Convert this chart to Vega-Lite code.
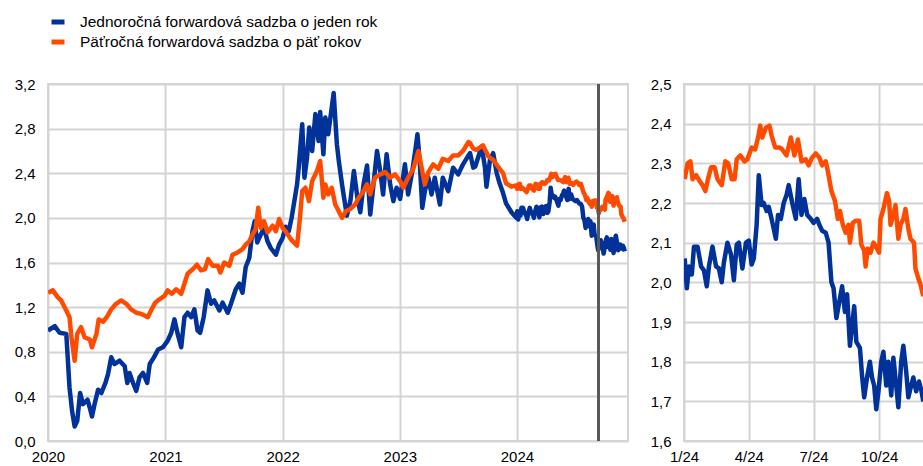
{
"$schema": "https://vega.github.io/schema/vega-lite/v6.json",
"padding": {"left": 13, "top": 12, "right": 0, "bottom": 0},
"background": "white",
"bounds": "flush",
"spacing": 56,
"config": {
  "font": "Liberation Sans",
  "view": {"stroke": "#d4d4d4", "strokeWidth": 2},
  "axis": {"labelFont": "Liberation Sans", "labelFontSize": 15, "labelColor": "#000000", "grid": true, "gridColor": "#d4d4d4", "gridOpacity": 1, "gridWidth": 2, "domain": false, "ticks": false, "title": null, "labelFlush": false}
},
"datasets": {"d": [
{"d":"2020-01-01","s":"1Y","v":0.99},{"d":"2020-01-22","s":"1Y","v":1.03},{"d":"2020-02-06","s":"1Y","v":0.97},{"d":"2020-02-27","s":"1Y","v":0.96},{"d":"2020-03-08","s":"1Y","v":0.48},{"d":"2020-03-16","s":"1Y","v":0.27},{"d":"2020-03-24","s":"1Y","v":0.13},{"d":"2020-04-01","s":"1Y","v":0.18},{"d":"2020-04-10","s":"1Y","v":0.43},{"d":"2020-04-19","s":"1Y","v":0.33},{"d":"2020-05-03","s":"1Y","v":0.37},{"d":"2020-05-10","s":"1Y","v":0.30},{"d":"2020-05-17","s":"1Y","v":0.22},{"d":"2020-05-25","s":"1Y","v":0.33},{"d":"2020-06-05","s":"1Y","v":0.46},{"d":"2020-06-15","s":"1Y","v":0.43},{"d":"2020-06-28","s":"1Y","v":0.52},{"d":"2020-07-06","s":"1Y","v":0.60},{"d":"2020-07-16","s":"1Y","v":0.75},{"d":"2020-07-26","s":"1Y","v":0.69},{"d":"2020-08-11","s":"1Y","v":0.72},{"d":"2020-08-27","s":"1Y","v":0.67},{"d":"2020-09-04","s":"1Y","v":0.52},{"d":"2020-09-11","s":"1Y","v":0.61},{"d":"2020-09-22","s":"1Y","v":0.52},{"d":"2020-10-02","s":"1Y","v":0.45},{"d":"2020-10-12","s":"1Y","v":0.57},{"d":"2020-10-23","s":"1Y","v":0.61},{"d":"2020-11-05","s":"1Y","v":0.52},{"d":"2020-11-13","s":"1Y","v":0.69},{"d":"2020-11-26","s":"1Y","v":0.75},{"d":"2020-12-09","s":"1Y","v":0.82},{"d":"2020-12-24","s":"1Y","v":0.84},
{"d":"2021-01-08","s":"1Y","v":0.90},{"d":"2021-01-19","s":"1Y","v":0.97},{"d":"2021-01-29","s":"1Y","v":1.09},{"d":"2021-02-08","s":"1Y","v":0.96},{"d":"2021-02-19","s":"1Y","v":0.84},{"d":"2021-03-01","s":"1Y","v":1.11},{"d":"2021-03-11","s":"1Y","v":1.15},{"d":"2021-03-22","s":"1Y","v":1.11},{"d":"2021-04-01","s":"1Y","v":1.18},{"d":"2021-04-11","s":"1Y","v":0.99},{"d":"2021-04-19","s":"1Y","v":0.97},{"d":"2021-04-30","s":"1Y","v":1.11},{"d":"2021-05-12","s":"1Y","v":1.35},{"d":"2021-05-23","s":"1Y","v":1.23},{"d":"2021-06-02","s":"1Y","v":1.26},{"d":"2021-06-18","s":"1Y","v":1.17},{"d":"2021-06-28","s":"1Y","v":1.24},{"d":"2021-07-14","s":"1Y","v":1.15},{"d":"2021-07-24","s":"1Y","v":1.23},{"d":"2021-08-08","s":"1Y","v":1.36},{"d":"2021-08-19","s":"1Y","v":1.41},{"d":"2021-08-29","s":"1Y","v":1.33},{"d":"2021-09-08","s":"1Y","v":1.56},{"d":"2021-09-19","s":"1Y","v":1.64},{"d":"2021-09-29","s":"1Y","v":1.88},{"d":"2021-10-06","s":"1Y","v":1.97},{"d":"2021-10-14","s":"1Y","v":1.78},{"d":"2021-10-25","s":"1Y","v":1.85},{"d":"2021-11-04","s":"1Y","v":1.91},{"d":"2021-11-15","s":"1Y","v":1.79},{"d":"2021-11-25","s":"1Y","v":1.73},{"d":"2021-12-11","s":"1Y","v":1.67},{"d":"2021-12-21","s":"1Y","v":1.76},
{"d":"2022-01-01","s":"1Y","v":1.82},{"d":"2022-01-10","s":"1Y","v":1.92},{"d":"2022-01-20","s":"1Y","v":1.88},{"d":"2022-01-29","s":"1Y","v":2.00},{"d":"2022-02-15","s":"1Y","v":2.30},{"d":"2022-02-20","s":"1Y","v":2.45},{"d":"2022-03-03","s":"1Y","v":2.84},{"d":"2022-03-10","s":"1Y","v":2.36},{"d":"2022-03-18","s":"1Y","v":2.54},{"d":"2022-03-25","s":"1Y","v":2.81},{"d":"2022-04-03","s":"1Y","v":2.60},{"d":"2022-04-13","s":"1Y","v":2.93},{"d":"2022-04-23","s":"1Y","v":2.69},{"d":"2022-04-28","s":"1Y","v":2.95},{"d":"2022-05-08","s":"1Y","v":2.57},{"d":"2022-05-14","s":"1Y","v":2.90},{"d":"2022-05-23","s":"1Y","v":2.75},{"d":"2022-06-09","s":"1Y","v":3.12},{"d":"2022-06-19","s":"1Y","v":2.66},{"d":"2022-06-25","s":"1Y","v":2.51},{"d":"2022-07-05","s":"1Y","v":2.30},{"d":"2022-07-13","s":"1Y","v":2.15},{"d":"2022-07-20","s":"1Y","v":2.02},{"d":"2022-07-31","s":"1Y","v":2.15},{"d":"2022-08-11","s":"1Y","v":2.42},{"d":"2022-08-22","s":"1Y","v":2.18},{"d":"2022-08-31","s":"1Y","v":2.05},{"d":"2022-09-10","s":"1Y","v":2.30},{"d":"2022-09-21","s":"1Y","v":2.47},{"d":"2022-10-01","s":"1Y","v":2.03},{"d":"2022-10-11","s":"1Y","v":2.30},{"d":"2022-10-22","s":"1Y","v":2.60},{"d":"2022-11-01","s":"1Y","v":2.42},{"d":"2022-11-10","s":"1Y","v":2.21},{"d":"2022-11-21","s":"1Y","v":2.57},{"d":"2022-12-02","s":"1Y","v":2.30},{"d":"2022-12-12","s":"1Y","v":2.15},{"d":"2022-12-22","s":"1Y","v":2.27},
{"d":"2023-01-02","s":"1Y","v":2.17},{"d":"2023-01-17","s":"1Y","v":2.48},{"d":"2023-01-27","s":"1Y","v":2.21},{"d":"2023-02-09","s":"1Y","v":2.42},{"d":"2023-02-19","s":"1Y","v":2.62},{"d":"2023-02-25","s":"1Y","v":2.75},{"d":"2023-03-04","s":"1Y","v":2.51},{"d":"2023-03-12","s":"1Y","v":2.09},{"d":"2023-03-20","s":"1Y","v":2.24},{"d":"2023-03-31","s":"1Y","v":2.36},{"d":"2023-04-10","s":"1Y","v":2.21},{"d":"2023-04-20","s":"1Y","v":2.36},{"d":"2023-05-06","s":"1Y","v":2.12},{"d":"2023-05-15","s":"1Y","v":2.36},{"d":"2023-06-01","s":"1Y","v":2.24},{"d":"2023-06-16","s":"1Y","v":2.45},{"d":"2023-07-02","s":"1Y","v":2.39},{"d":"2023-07-17","s":"1Y","v":2.48},{"d":"2023-08-03","s":"1Y","v":2.56},{"d":"2023-08-08","s":"1Y","v":2.58},{"d":"2023-08-18","s":"1Y","v":2.45},{"d":"2023-08-24","s":"1Y","v":2.46},{"d":"2023-09-03","s":"1Y","v":2.55},{"d":"2023-09-13","s":"1Y","v":2.64},{"d":"2023-09-23","s":"1Y","v":2.46},{"d":"2023-09-28","s":"1Y","v":2.28},{"d":"2023-10-09","s":"1Y","v":2.52},{"d":"2023-10-19","s":"1Y","v":2.58},{"d":"2023-10-30","s":"1Y","v":2.40},{"d":"2023-11-08","s":"1Y","v":2.31},{"d":"2023-11-19","s":"1Y","v":2.22},{"d":"2023-11-28","s":"1Y","v":2.13},{"d":"2023-12-15","s":"1Y","v":2.05},{"d":"2023-12-30","s":"1Y","v":2.00},
{"d":"2024-01-02","s":"1Y","v":2.06},{"d":"2024-01-05","s":"1Y","v":1.985},{"d":"2024-01-08","s":"1Y","v":2.04},{"d":"2024-01-12","s":"1Y","v":2.02},{"d":"2024-01-15","s":"1Y","v":2.09},{"d":"2024-01-20","s":"1Y","v":2.09},{"d":"2024-01-25","s":"1Y","v":2.04},{"d":"2024-01-29","s":"1Y","v":2.03},{"d":"2024-02-02","s":"1Y","v":1.99},{"d":"2024-02-05","s":"1Y","v":2.04},{"d":"2024-02-10","s":"1Y","v":2.09},{"d":"2024-02-15","s":"1Y","v":2.04},{"d":"2024-02-19","s":"1Y","v":2.035},{"d":"2024-02-23","s":"1Y","v":2.0},{"d":"2024-02-26","s":"1Y","v":2.05},{"d":"2024-03-02","s":"1Y","v":2.10},{"d":"2024-03-07","s":"1Y","v":2.07},{"d":"2024-03-11","s":"1Y","v":2.005},{"d":"2024-03-15","s":"1Y","v":2.095},{"d":"2024-03-18","s":"1Y","v":2.10},{"d":"2024-03-23","s":"1Y","v":2.035},{"d":"2024-03-28","s":"1Y","v":2.10},{"d":"2024-04-01","s":"1Y","v":2.105},{"d":"2024-04-05","s":"1Y","v":2.045},{"d":"2024-04-08","s":"1Y","v":2.06},{"d":"2024-04-12","s":"1Y","v":2.145},{"d":"2024-04-15","s":"1Y","v":2.27},{"d":"2024-04-19","s":"1Y","v":2.195},{"d":"2024-04-22","s":"1Y","v":2.20},{"d":"2024-04-26","s":"1Y","v":2.18},{"d":"2024-04-29","s":"1Y","v":2.19},{"d":"2024-05-03","s":"1Y","v":2.16},{"d":"2024-05-06","s":"1Y","v":2.135},{"d":"2024-05-09","s":"1Y","v":2.11},{"d":"2024-05-12","s":"1Y","v":2.17},{"d":"2024-05-16","s":"1Y","v":2.16},{"d":"2024-05-20","s":"1Y","v":2.20},{"d":"2024-05-24","s":"1Y","v":2.22},{"d":"2024-05-27","s":"1Y","v":2.245},{"d":"2024-06-01","s":"1Y","v":2.20},{"d":"2024-06-06","s":"1Y","v":2.16},{"d":"2024-06-10","s":"1Y","v":2.26},{"d":"2024-06-14","s":"1Y","v":2.17},{"d":"2024-06-18","s":"1Y","v":2.21},{"d":"2024-06-22","s":"1Y","v":2.17},{"d":"2024-06-27","s":"1Y","v":2.16},{"d":"2024-07-01","s":"1Y","v":2.15},{"d":"2024-07-06","s":"1Y","v":2.16},{"d":"2024-07-09","s":"1Y","v":2.145},{"d":"2024-07-13","s":"1Y","v":2.13},{"d":"2024-07-18","s":"1Y","v":2.125},{"d":"2024-07-22","s":"1Y","v":2.10},{"d":"2024-07-26","s":"1Y","v":2.00},{"d":"2024-07-29","s":"1Y","v":1.985},{"d":"2024-08-02","s":"1Y","v":1.91},{"d":"2024-08-06","s":"1Y","v":1.95},{"d":"2024-08-10","s":"1Y","v":1.99},{"d":"2024-08-14","s":"1Y","v":1.925},{"d":"2024-08-17","s":"1Y","v":1.97},{"d":"2024-08-21","s":"1Y","v":1.84},{"d":"2024-08-24","s":"1Y","v":1.89},{"d":"2024-08-27","s":"1Y","v":1.94},{"d":"2024-08-30","s":"1Y","v":1.85},{"d":"2024-09-04","s":"1Y","v":1.835},{"d":"2024-09-07","s":"1Y","v":1.765},{"d":"2024-09-10","s":"1Y","v":1.71},{"d":"2024-09-14","s":"1Y","v":1.76},{"d":"2024-09-18","s":"1Y","v":1.80},{"d":"2024-09-21","s":"1Y","v":1.76},{"d":"2024-09-24","s":"1Y","v":1.74},{"d":"2024-09-27","s":"1Y","v":1.68},{"d":"2024-09-30","s":"1Y","v":1.725},{"d":"2024-10-04","s":"1Y","v":1.80},{"d":"2024-10-07","s":"1Y","v":1.825},{"d":"2024-10-11","s":"1Y","v":1.74},{"d":"2024-10-14","s":"1Y","v":1.80},{"d":"2024-10-18","s":"1Y","v":1.715},{"d":"2024-10-21","s":"1Y","v":1.81},{"d":"2024-10-25","s":"1Y","v":1.74},{"d":"2024-10-28","s":"1Y","v":1.685},{"d":"2024-11-01","s":"1Y","v":1.80},{"d":"2024-11-04","s":"1Y","v":1.84},{"d":"2024-11-08","s":"1Y","v":1.775},{"d":"2024-11-11","s":"1Y","v":1.71},{"d":"2024-11-15","s":"1Y","v":1.74},{"d":"2024-11-18","s":"1Y","v":1.76},{"d":"2024-11-22","s":"1Y","v":1.725},{"d":"2024-11-26","s":"1Y","v":1.75},{"d":"2024-11-29","s":"1Y","v":1.73},{"d":"2024-12-02","s":"1Y","v":1.70},
{"d":"2020-01-01","s":"5Y","v":1.33},{"d":"2020-01-16","s":"5Y","v":1.35},{"d":"2020-01-31","s":"5Y","v":1.29},{"d":"2020-02-11","s":"5Y","v":1.26},{"d":"2020-02-27","s":"5Y","v":1.17},{"d":"2020-03-08","s":"5Y","v":1.11},{"d":"2020-03-14","s":"5Y","v":0.93},{"d":"2020-03-24","s":"5Y","v":0.72},{"d":"2020-04-01","s":"5Y","v":0.96},{"d":"2020-04-13","s":"5Y","v":1.02},{"d":"2020-04-24","s":"5Y","v":0.93},{"d":"2020-05-10","s":"5Y","v":0.91},{"d":"2020-05-17","s":"5Y","v":0.84},{"d":"2020-05-31","s":"5Y","v":0.96},{"d":"2020-06-07","s":"5Y","v":1.09},{"d":"2020-06-21","s":"5Y","v":1.07},{"d":"2020-07-04","s":"5Y","v":1.12},{"d":"2020-07-16","s":"5Y","v":1.18},{"d":"2020-07-31","s":"5Y","v":1.23},{"d":"2020-08-16","s":"5Y","v":1.26},{"d":"2020-09-01","s":"5Y","v":1.23},{"d":"2020-09-16","s":"5Y","v":1.18},{"d":"2020-10-02","s":"5Y","v":1.15},{"d":"2020-10-17","s":"5Y","v":1.14},{"d":"2020-11-07","s":"5Y","v":1.11},{"d":"2020-11-17","s":"5Y","v":1.17},{"d":"2020-11-30","s":"5Y","v":1.24},{"d":"2020-12-13","s":"5Y","v":1.27},{"d":"2020-12-29","s":"5Y","v":1.30},
{"d":"2021-01-08","s":"5Y","v":1.35},{"d":"2021-01-21","s":"5Y","v":1.32},{"d":"2021-02-03","s":"5Y","v":1.36},{"d":"2021-02-19","s":"5Y","v":1.32},{"d":"2021-03-01","s":"5Y","v":1.41},{"d":"2021-03-11","s":"5Y","v":1.50},{"d":"2021-03-27","s":"5Y","v":1.54},{"d":"2021-04-09","s":"5Y","v":1.58},{"d":"2021-04-22","s":"5Y","v":1.53},{"d":"2021-05-04","s":"5Y","v":1.54},{"d":"2021-05-14","s":"5Y","v":1.63},{"d":"2021-05-28","s":"5Y","v":1.57},{"d":"2021-06-13","s":"5Y","v":1.57},{"d":"2021-06-21","s":"5Y","v":1.51},{"d":"2021-07-03","s":"5Y","v":1.60},{"d":"2021-07-19","s":"5Y","v":1.57},{"d":"2021-07-29","s":"5Y","v":1.67},{"d":"2021-08-14","s":"5Y","v":1.69},{"d":"2021-08-29","s":"5Y","v":1.72},{"d":"2021-09-08","s":"5Y","v":1.76},{"d":"2021-09-19","s":"5Y","v":1.79},{"d":"2021-09-29","s":"5Y","v":1.85},{"d":"2021-10-09","s":"5Y","v":1.90},{"d":"2021-10-17","s":"5Y","v":2.09},{"d":"2021-10-25","s":"5Y","v":1.91},{"d":"2021-11-04","s":"5Y","v":1.97},{"d":"2021-11-15","s":"5Y","v":1.87},{"d":"2021-12-01","s":"5Y","v":1.93},{"d":"2021-12-11","s":"5Y","v":1.88},{"d":"2021-12-21","s":"5Y","v":1.99},
{"d":"2022-01-01","s":"5Y","v":1.91},{"d":"2022-01-10","s":"5Y","v":1.88},{"d":"2022-01-29","s":"5Y","v":1.80},{"d":"2022-02-15","s":"5Y","v":1.75},{"d":"2022-02-24","s":"5Y","v":2.00},{"d":"2022-03-03","s":"5Y","v":2.24},{"d":"2022-03-13","s":"5Y","v":2.27},{"d":"2022-03-24","s":"5Y","v":2.15},{"d":"2022-04-03","s":"5Y","v":2.33},{"d":"2022-04-18","s":"5Y","v":2.42},{"d":"2022-04-28","s":"5Y","v":2.51},{"d":"2022-05-08","s":"5Y","v":2.18},{"d":"2022-05-14","s":"5Y","v":2.30},{"d":"2022-05-23","s":"5Y","v":2.21},{"d":"2022-06-03","s":"5Y","v":2.27},{"d":"2022-06-14","s":"5Y","v":2.12},{"d":"2022-06-25","s":"5Y","v":2.06},{"d":"2022-07-05","s":"5Y","v":2.00},{"d":"2022-07-17","s":"5Y","v":2.06},{"d":"2022-07-31","s":"5Y","v":2.08},{"d":"2022-08-15","s":"5Y","v":2.12},{"d":"2022-08-26","s":"5Y","v":2.18},{"d":"2022-09-10","s":"5Y","v":2.24},{"d":"2022-09-21","s":"5Y","v":2.30},{"d":"2022-10-01","s":"5Y","v":2.21},{"d":"2022-10-16","s":"5Y","v":2.36},{"d":"2022-11-01","s":"5Y","v":2.39},{"d":"2022-11-17","s":"5Y","v":2.41},{"d":"2022-12-02","s":"5Y","v":2.36},{"d":"2022-12-17","s":"5Y","v":2.39},
{"d":"2023-01-02","s":"5Y","v":2.33},{"d":"2023-01-12","s":"5Y","v":2.27},{"d":"2023-01-27","s":"5Y","v":2.36},{"d":"2023-02-12","s":"5Y","v":2.44},{"d":"2023-02-28","s":"5Y","v":2.60},{"d":"2023-03-10","s":"5Y","v":2.45},{"d":"2023-03-20","s":"5Y","v":2.30},{"d":"2023-03-31","s":"5Y","v":2.41},{"d":"2023-04-15","s":"5Y","v":2.48},{"d":"2023-05-01","s":"5Y","v":2.44},{"d":"2023-05-15","s":"5Y","v":2.53},{"d":"2023-06-01","s":"5Y","v":2.51},{"d":"2023-06-16","s":"5Y","v":2.56},{"d":"2023-07-02","s":"5Y","v":2.56},{"d":"2023-07-17","s":"5Y","v":2.60},{"d":"2023-08-03","s":"5Y","v":2.68},{"d":"2023-08-08","s":"5Y","v":2.67},{"d":"2023-08-18","s":"5Y","v":2.62},{"d":"2023-08-28","s":"5Y","v":2.61},{"d":"2023-09-17","s":"5Y","v":2.65},{"d":"2023-10-04","s":"5Y","v":2.55},{"d":"2023-10-19","s":"5Y","v":2.52},{"d":"2023-11-03","s":"5Y","v":2.46},{"d":"2023-11-19","s":"5Y","v":2.40},{"d":"2023-11-28","s":"5Y","v":2.31},{"d":"2023-12-15","s":"5Y","v":2.28},{"d":"2023-12-30","s":"5Y","v":2.29},
{"d":"2024-01-02","s":"5Y","v":2.26},{"d":"2024-01-06","s":"5Y","v":2.30},{"d":"2024-01-10","s":"5Y","v":2.305},{"d":"2024-01-13","s":"5Y","v":2.26},{"d":"2024-01-18","s":"5Y","v":2.27},{"d":"2024-01-23","s":"5Y","v":2.255},{"d":"2024-01-27","s":"5Y","v":2.245},{"d":"2024-01-31","s":"5Y","v":2.23},{"d":"2024-02-03","s":"5Y","v":2.255},{"d":"2024-02-08","s":"5Y","v":2.29},{"d":"2024-02-13","s":"5Y","v":2.29},{"d":"2024-02-17","s":"5Y","v":2.26},{"d":"2024-02-23","s":"5Y","v":2.245},{"d":"2024-02-28","s":"5Y","v":2.305},{"d":"2024-03-03","s":"5Y","v":2.30},{"d":"2024-03-08","s":"5Y","v":2.26},{"d":"2024-03-12","s":"5Y","v":2.26},{"d":"2024-03-15","s":"5Y","v":2.31},{"d":"2024-03-20","s":"5Y","v":2.32},{"d":"2024-03-26","s":"5Y","v":2.305},{"d":"2024-03-30","s":"5Y","v":2.31},{"d":"2024-04-05","s":"5Y","v":2.34},{"d":"2024-04-10","s":"5Y","v":2.335},{"d":"2024-04-14","s":"5Y","v":2.365},{"d":"2024-04-17","s":"5Y","v":2.395},{"d":"2024-04-20","s":"5Y","v":2.365},{"d":"2024-04-25","s":"5Y","v":2.39},{"d":"2024-04-30","s":"5Y","v":2.395},{"d":"2024-05-03","s":"5Y","v":2.37},{"d":"2024-05-08","s":"5Y","v":2.34},{"d":"2024-05-14","s":"5Y","v":2.34},{"d":"2024-05-18","s":"5Y","v":2.335},{"d":"2024-05-24","s":"5Y","v":2.32},{"d":"2024-05-30","s":"5Y","v":2.365},{"d":"2024-06-04","s":"5Y","v":2.32},{"d":"2024-06-09","s":"5Y","v":2.36},{"d":"2024-06-14","s":"5Y","v":2.305},{"d":"2024-06-20","s":"5Y","v":2.31},{"d":"2024-06-24","s":"5Y","v":2.295},{"d":"2024-06-29","s":"5Y","v":2.315},{"d":"2024-07-04","s":"5Y","v":2.325},{"d":"2024-07-09","s":"5Y","v":2.315},{"d":"2024-07-13","s":"5Y","v":2.295},{"d":"2024-07-18","s":"5Y","v":2.305},{"d":"2024-07-21","s":"5Y","v":2.28},{"d":"2024-07-26","s":"5Y","v":2.23},{"d":"2024-07-31","s":"5Y","v":2.205},{"d":"2024-08-04","s":"5Y","v":2.16},{"d":"2024-08-07","s":"5Y","v":2.18},{"d":"2024-08-11","s":"5Y","v":2.145},{"d":"2024-08-15","s":"5Y","v":2.125},{"d":"2024-08-19","s":"5Y","v":2.145},{"d":"2024-08-21","s":"5Y","v":2.10},{"d":"2024-08-25","s":"5Y","v":2.15},{"d":"2024-08-29","s":"5Y","v":2.155},{"d":"2024-09-03","s":"5Y","v":2.155},{"d":"2024-09-06","s":"5Y","v":2.095},{"d":"2024-09-10","s":"5Y","v":2.08},{"d":"2024-09-12","s":"5Y","v":2.04},{"d":"2024-09-15","s":"5Y","v":2.085},{"d":"2024-09-19","s":"5Y","v":2.075},{"d":"2024-09-23","s":"5Y","v":2.10},{"d":"2024-09-28","s":"5Y","v":2.085},{"d":"2024-10-01","s":"5Y","v":2.075},{"d":"2024-10-03","s":"5Y","v":2.16},{"d":"2024-10-07","s":"5Y","v":2.185},{"d":"2024-10-12","s":"5Y","v":2.225},{"d":"2024-10-15","s":"5Y","v":2.205},{"d":"2024-10-17","s":"5Y","v":2.145},{"d":"2024-10-21","s":"5Y","v":2.17},{"d":"2024-10-24","s":"5Y","v":2.195},{"d":"2024-10-28","s":"5Y","v":2.11},{"d":"2024-10-31","s":"5Y","v":2.145},{"d":"2024-11-04","s":"5Y","v":2.16},{"d":"2024-11-07","s":"5Y","v":2.185},{"d":"2024-11-11","s":"5Y","v":2.135},{"d":"2024-11-14","s":"5Y","v":2.11},{"d":"2024-11-19","s":"5Y","v":2.10},{"d":"2024-11-21","s":"5Y","v":2.035},{"d":"2024-11-25","s":"5Y","v":2.01},{"d":"2024-11-28","s":"5Y","v":1.995},{"d":"2024-12-02","s":"5Y","v":1.965}
]},
"hconcat": [
{
  "width": 580, "height": 357,
  "data": {"name": "d"},
  "layer": [
    {"mark": {"type": "line", "strokeWidth": 4.5, "strokeJoin": "round", "clip": true},
     "encoding": {
       "x": {"field": "d", "type": "temporal",
             "scale": {"type": "utc", "domain": [{"year": 2020, "month": 1, "date": 1, "utc": true}, {"year": 2024, "month": 12, "date": 12, "utc": true}]},
             "axis": {"values": [{"year": 2020, "month": 1, "date": 1, "utc": true}, {"year": 2021, "month": 1, "date": 1, "utc": true}, {"year": 2022, "month": 1, "date": 1, "utc": true}, {"year": 2023, "month": 1, "date": 1, "utc": true}, {"year": 2024, "month": 1, "date": 1, "utc": true}], "format": "%Y", "labelPadding": 8, "grid": true, "gridColor": "#d4d4d4", "gridWidth": 2, "labelFlush": false}},
       "y": {"field": "v", "type": "quantitative",
             "scale": {"domain": [0, 3.2]},
             "axis": {"values": [0, 0.4, 0.8, 1.2, 1.6, 2.0, 2.4, 2.8, 3.2], "labelExpr": "replace(format(datum.value, '.1f'), '.', ',')", "labelPadding": 13, "grid": true, "gridColor": "#d4d4d4", "gridWidth": 2}},
       "color": {"field": "s", "type": "nominal",
             "scale": {"domain": ["1Y", "5Y"], "range": ["#003299", "#ff4b00"]},
             "legend": {"orient": "none", "legendX": 1, "legendY": -71, "title": null, "direction": "vertical", "symbolType": "stroke", "symbolStrokeWidth": 5, "symbolSize": 169, "labelFontSize": 15.5, "labelFont": "Liberation Sans", "labelColor": "#000000", "labelOffset": 13, "rowPadding": 0, "padding": 0, "labelLimit": 600,
                        "labelExpr": "datum.value == '1Y' ? 'Jednoročná forwardová sadzba o jeden rok' : 'Päťročná forwardová sadzba o päť rokov'"}}
     }},
    {"mark": {"type": "rule", "color": "#595959", "strokeWidth": 2},
     "encoding": {"x": {"datum": {"year": 2024, "month": 9, "date": 12, "utc": true}, "type": "temporal"}}}
  ]
},
{
  "width": 240, "height": 357,
  "data": {"name": "d"},
  "transform": [{"filter": "time(datum.d) >= utc(2024, 0, 1)"}],
  "mark": {"type": "line", "strokeWidth": 4.5, "strokeJoin": "round", "clip": true},
  "encoding": {
    "x": {"field": "d", "type": "temporal",
          "scale": {"type": "utc", "domain": [{"year": 2024, "month": 1, "date": 1, "utc": true}, {"year": 2024, "month": 12, "date": 3, "utc": true}]},
          "axis": {"values": [{"year": 2024, "month": 1, "date": 1, "utc": true}, {"year": 2024, "month": 4, "date": 1, "utc": true}, {"year": 2024, "month": 7, "date": 1, "utc": true}, {"year": 2024, "month": 10, "date": 1, "utc": true}], "format": "%-m/%y", "labelPadding": 8, "grid": true, "gridColor": "#d4d4d4", "gridWidth": 2, "labelFlush": false}},
    "y": {"field": "v", "type": "quantitative",
          "scale": {"domain": [1.6, 2.5]},
          "axis": {"values": [1.6, 1.7, 1.8, 1.9, 2.0, 2.1, 2.2, 2.3, 2.4, 2.5], "labelExpr": "replace(format(datum.value, '.1f'), '.', ',')", "labelPadding": 13, "grid": true, "gridColor": "#d4d4d4", "gridWidth": 2}},
    "color": {"field": "s", "type": "nominal",
          "scale": {"domain": ["1Y", "5Y"], "range": ["#003299", "#ff4b00"]},
          "legend": null}
  }
}
],
"resolve": {"scale": {"color": "independent", "x": "independent", "y": "independent"}, "legend": {"color": "independent"}}
}
